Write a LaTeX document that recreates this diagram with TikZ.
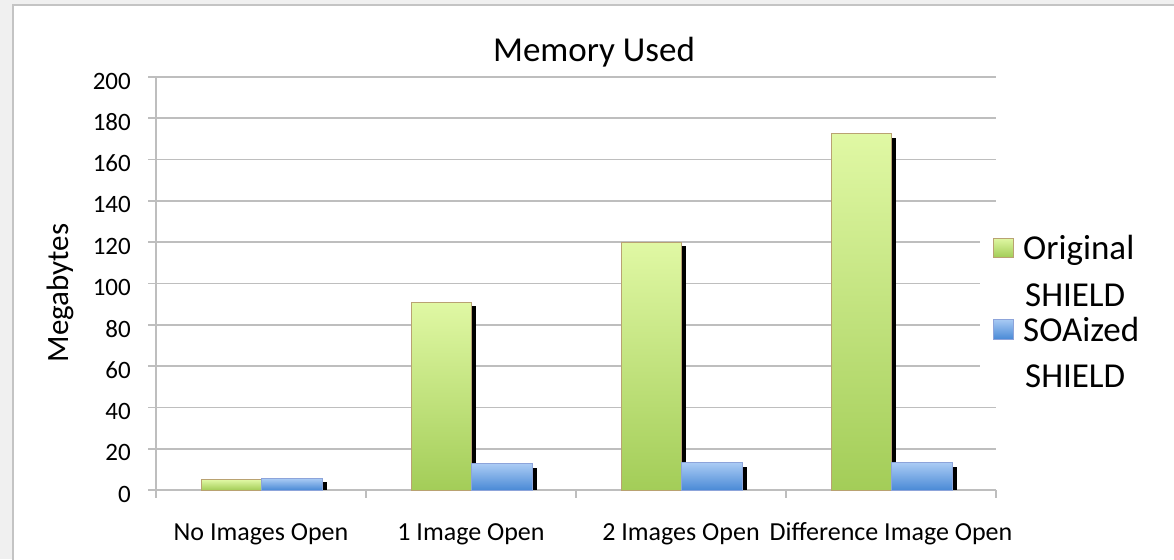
\documentclass[tikz,border=0pt]{standalone}
\usepackage{fontspec}
\setmainfont{Carlito}
\usetikzlibrary{positioning}

\definecolor{pageGrey}{HTML}{F0F0F0}
\definecolor{frameGrey}{HTML}{C4C4C4}
\definecolor{gridGrey}{HTML}{BEBEBE}
\definecolor{origTop}{HTML}{E0F8A4}
\definecolor{origBottom}{HTML}{A3CD58}
\definecolor{origEdge}{HTML}{B9A272}
\definecolor{soaTop}{HTML}{AACBF4}
\definecolor{soaBottom}{HTML}{4A8AD6}
\definecolor{soaEdge}{HTML}{8DA4DA}

\begin{document}
\begin{tikzpicture}[
    x=1pt, y=-1pt,
    grid line/.style={draw=gridGrey, line width=1.6pt},
    orig bar/.style={draw=origEdge, line width=1pt, top color=origTop, bottom color=origBottom},
    soa bar/.style={draw=soaEdge, line width=1pt, top color=soaTop, bottom color=soaBottom},
    shadow bar/.style={fill=black},
    tick label/.style={anchor=east, inner sep=0pt, font=\fontsize{25}{30}\selectfont},
    cat label/.style={anchor=base, inner sep=0pt, font=\fontsize{26}{31}\selectfont},
    legend text/.style={anchor=base west, inner sep=0pt, font=\fontsize{35}{42}\selectfont}
]
    \useasboundingbox (0,0) rectangle (1174,559);
    % Page and chart frame
    \fill[pageGrey] (0,0) rectangle (1174,559);
    \filldraw[fill=white, draw=frameGrey, line width=2pt] (13,5) rectangle (1190,575);

    % Title and axis name
    \node[inner sep=0pt, font=\fontsize{35}{42}\selectfont] (title) at (594,52) {Memory Used};
    \node[rotate=90, inner sep=0pt, font=\fontsize{31}{37}\selectfont] (ylabel) at (60,293) {Megabytes};

    % Grid lines and value labels
    \foreach \v in {0,20,...,200} {
        \draw[grid line] (148,{490-2.065*\v}) -- (996,{490-2.065*\v});
        \node[tick label] (tick\v) at (131,{494-2.065*\v}) {\v};
    }
    \draw[grid line] (156,77) -- (156,498);
    \foreach \k in {1,...,4}
        \draw[grid line] ({156+210*\k},490) -- ({156+210*\k},498);

    % Bars
    \foreach \g/\b [count=\i from 0] in {5/5.6, 91/12.7, 120/13.2, 172.4/13.2} {
        \fill[shadow bar] ({201+210*\i+5},{490-2.065*\g+4}) rectangle ({261+210*\i+5},490);
        \fill[shadow bar] ({261+210*\i+5},{490-2.065*\b+4}) rectangle ({322+210*\i+5},490);
        \draw[orig bar] ({201+210*\i},{490-2.065*\g}) rectangle ({261+210*\i},490);
        \draw[soa bar] ({261+210*\i},{490-2.065*\b}) rectangle ({322+210*\i},490);
    }

    % Category labels
    \foreach \lbl [count=\i from 0] in {No Images Open, 1 Image Open, 2 Images Open, Difference Image Open}
        \node[cat label] (cat\i) at ({261+210*\i},540) {\lbl};

    % Legend
    \fill[white] (980,215) rectangle (1174,398);
    \draw[origEdge, line width=1pt, top color=origTop, bottom color=origBottom] (993,238) rectangle (1013,257);
    \draw[soaEdge, line width=1pt, top color=soaTop, bottom color=soaBottom] (993,319) rectangle (1013,339);
    \node[legend text] (origA) at (1023,259) {Original};
    \node[legend text] (origB) at (1025,306) {SHIELD};
    \node[legend text] (soaA) at (1023,341) {SOAized};
    \node[legend text] (soaB) at (1025,387) {SHIELD};
\end{tikzpicture}
\end{document}
